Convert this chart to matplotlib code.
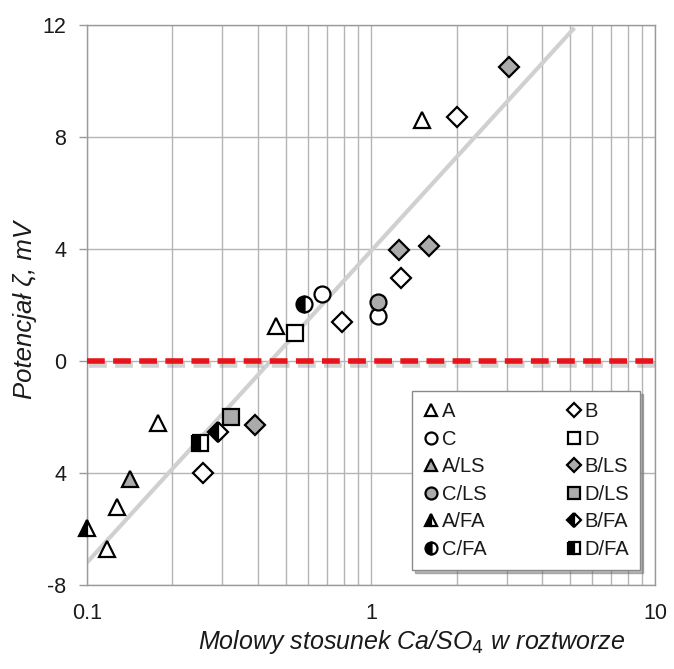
import matplotlib
matplotlib.use("Agg")
import matplotlib.pyplot as plt
import matplotlib.patheffects as pe

plt.rcParams['font.family'] = ['Liberation Sans', 'DejaVu Sans']

# ---- data (x: molar ratio Ca/SO4, y: zeta potential mV) ----
A_x = [0.118, 0.128, 0.178, 0.463, 1.51]
A_y = [-6.7, -5.2, -2.2, 1.25, 8.6]
B_x = [0.256, 0.79, 1.27, 2.0]
B_y = [-4.0, 1.4, 2.95, 8.7]
C_x = [0.67, 1.06]
C_y = [2.4, 1.6]
D_x = [0.54]
D_y = [1.0]
ALS_x = [0.142]
ALS_y = [-4.2]
BLS_x = [0.39, 1.25, 1.60, 3.07]
BLS_y = [-2.3, 3.95, 4.1, 10.5]
CLS_x = [1.06]
CLS_y = [2.1]
DLS_x = [0.321]
DLS_y = [-2.0]
AFA_x = [0.100]
AFA_y = [-5.95]
BFA_x = [0.290]
BFA_y = [-2.55]
CFA_x = [0.582]
CFA_y = [2.05]
DFA_x = [0.250]
DFA_y = [-2.92]

trend_x = [0.1, 5.2]
trend_y = [-7.2, 11.9]
zero_x = [0.1, 10]
zero_y = [0, 0]

yticks = [12, 8, 4, 0, -4, -8]
ytick_labels = ['12', '8', '4', '0', '4', '-8']
xticks = [0.1, 1, 10]
xtick_labels = ['0.1', '1', '10']

fig = plt.figure(figsize=(6.74, 6.69), dpi=100)
ax = fig.add_axes([0.129, 0.1256, 0.843, 0.837])
ax.set_xscale('log')
ax.set_xlim(0.1, 10)
ax.set_ylim(-8, 12)

grid_c = '#b4b4b4'
ax.grid(True, which='both', axis='x', color=grid_c, lw=1.0)
ax.grid(True, which='major', axis='y', color=grid_c, lw=1.0)
ax.set_axisbelow(True)
for s in ax.spines.values():
    s.set_color('#9a9a9a')
    s.set_linewidth(1.0)

ax.set_yticks(yticks)
ax.set_yticklabels(ytick_labels)
ax.set_xticks(xticks)
ax.set_xticklabels(xtick_labels)
ax.tick_params(axis='x', which='both', length=0, pad=13, labelsize=15.5, labelcolor='#1a1a1a')
ax.tick_params(axis='y', which='major', length=6, color='#9a9a9a', width=1, pad=9, labelsize=15.5,
               labelcolor='#1a1a1a')
ax.xaxis.set_minor_formatter(matplotlib.ticker.NullFormatter())

# trend line
ax.plot(trend_x, trend_y, color='#d0d0d0', lw=3.0, zorder=2, solid_capstyle='butt')

# red dashed zero line with shadow
ax.plot(zero_x, zero_y, color='#e8141c', lw=4.0, dashes=(3.2, 1.5), zorder=3,
        path_effects=[pe.SimpleLineShadow(offset=(1.5, -3), shadow_color='#808080', alpha=0.35),
                      pe.Normal()], clip_on=False)

mew = 1.6
gray = '#ababab'
ms_t = 12
ms_o = 11.5
ms_s = 11
ms_d = 10
common = dict(ls='none', mec='black', mew=mew, zorder=5, clip_on=False)

hA, = ax.plot(A_x, A_y, marker='^', ms=ms_t, mfc='white', label='A', **common)
hB, = ax.plot(B_x, B_y, marker='D', ms=ms_d, mfc='white', label='B', **common)
hC, = ax.plot(C_x, C_y, marker='o', ms=ms_o, mfc='white', label='C', **common)
hD, = ax.plot(D_x, D_y, marker='s', ms=ms_s, mfc='white', label='D', **common)
hALS, = ax.plot(ALS_x, ALS_y, marker='^', ms=ms_t, mfc=gray, label='A/LS', **common)
hBLS, = ax.plot(BLS_x, BLS_y, marker='D', ms=ms_d, mfc=gray, label='B/LS', **common)
hCLS, = ax.plot(CLS_x, CLS_y, marker='o', ms=ms_o, mfc=gray, label='C/LS', **common)
hDLS, = ax.plot(DLS_x, DLS_y, marker='s', ms=ms_s, mfc=gray, label='D/LS', **common)
hAFA, = ax.plot(AFA_x, AFA_y, marker='^', ms=ms_t, mfc='black', mfcalt='white', fillstyle='left', label='A/FA', **common)
hBFA, = ax.plot(BFA_x, BFA_y, marker='D', ms=ms_d, mfc='black', mfcalt='white', fillstyle='left', label='B/FA', **common)
hCFA, = ax.plot(CFA_x, CFA_y, marker='o', ms=ms_o, mfc='black', mfcalt='white', fillstyle='left', label='C/FA', **common)
hDFA, = ax.plot(DFA_x, DFA_y, marker='s', ms=ms_s, mfc='black', mfcalt='white', fillstyle='left', label='D/FA', **common)

handles = [hA, hC, hALS, hCLS, hAFA, hCFA, hB, hD, hBLS, hDLS, hBFA, hDFA]
leg = ax.legend(handles=handles, ncol=2, loc='center',
                bbox_to_anchor=(0.572, 0.021, 0.402, 0.331), mode='expand',
                fontsize=14.5, markerscale=0.75, handlelength=0.8, handletextpad=0.15,
                labelspacing=0.42, borderpad=0.55, columnspacing=1.0,
                frameon=True, fancybox=False, shadow={'color': '#707070', 'alpha': 0.5},
                borderaxespad=0)
leg.get_frame().set_edgecolor('#8a8a8a')
leg.get_frame().set_linewidth(1.0)
leg.get_frame().set_alpha(1)
leg.set_zorder(10)
for t in leg.get_texts():
    t.set_color('#1a1a1a')

fig.text(25/674, 1 - 310/669, 'Potencjał ζ, mV', fontsize=18.5, style='italic',
         rotation=90, ha='center', va='center', color='#1a1a1a')
fig.text(412/674, 1 - 642/669, 'Molowy stosunek Ca/SO$_4$ w roztworze', fontsize=18,
         style='italic', ha='center', va='center', color='#1a1a1a')

fig.savefig('out.png', dpi=100)
